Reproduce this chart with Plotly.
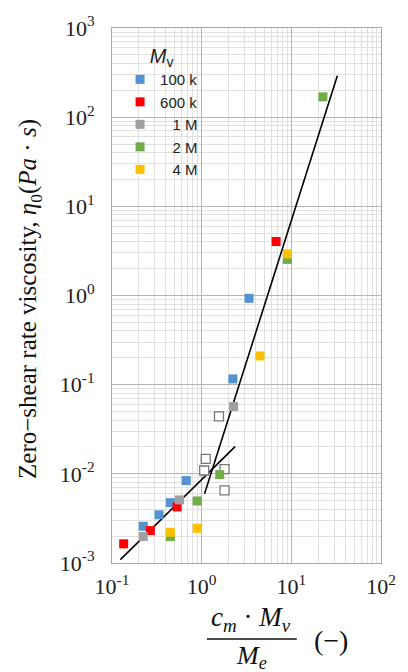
import plotly.graph_objects as go

# ---- data ----
x_100k = [0.223, 0.335, 0.447, 0.672, 2.23, 3.38]
y_100k = [0.00258, 0.00347, 0.00475, 0.0084, 0.116, 0.93]
x_600k = [0.135, 0.268, 0.532, 6.76]
y_600k = [0.00164, 0.00231, 0.00426, 4.03]
x_1M = [0.223, 0.565, 2.27]
y_1M = [0.00198, 0.0051, 0.0569]
x_1M_open = [1.067, 1.11, 1.80, 1.80, 1.56]
y_1M_open = [0.0109, 0.0147, 0.0113, 0.00652, 0.044]
x_2M = [0.447, 0.89, 1.59, 9.04, 22.5]
y_2M = [0.00198, 0.00496, 0.0098, 2.54, 169]
x_4M = [0.447, 0.89, 4.47, 9.04]
y_4M = [0.00221, 0.00245, 0.21, 2.93]

fit_low_x = [0.124, 2.36]
fit_low_y = [0.00109, 0.0202]
fit_high_x = [1.077, 32.6]
fit_high_y = [0.00597, 292]

x_tickvals = [0.1, 1, 10, 100]
x_ticktext = ["10<sup>-1</sup>", "10<sup>0</sup>", "10<sup>1</sup>", "10<sup>2</sup>"]
y_tickvals = [0.001, 0.01, 0.1, 1, 10, 100, 1000]
y_ticktext = ["10<sup>-3</sup>", "10<sup>-2</sup>", "10<sup>-1</sup>", "10<sup>0</sup>",
              "10<sup>1</sup>", "10<sup>2</sup>", "10<sup>3</sup>"]

series = [
    ("100 k", x_100k, y_100k, "#5592D2"),
    ("600 k", x_600k, y_600k, "#FF0000"),
    ("   1 M", x_1M, y_1M, "#A0A0A0"),
    ("   2 M", x_2M, y_2M, "#70AD47"),
    ("   4 M", x_4M, y_4M, "#FFC000"),
]

fig = go.Figure()

fig.add_trace(go.Scatter(x=fit_low_x, y=fit_low_y, mode="lines",
                         line=dict(color="black", width=1.6), showlegend=False))
fig.add_trace(go.Scatter(x=fit_high_x, y=fit_high_y, mode="lines",
                         line=dict(color="black", width=1.6), showlegend=False))

fig.add_trace(go.Scatter(x=x_1M_open, y=y_1M_open, mode="markers",
                         marker=dict(symbol="square", size=9, color="white",
                                     line=dict(color="#777777", width=1.3)),
                         showlegend=False))

for name, xs, ys, col in series:
    fig.add_trace(go.Scatter(x=xs, y=ys, mode="markers", name=name,
                             marker=dict(symbol="square", size=9, color=col,
                                         line=dict(width=0))))

grid_major = "#B5B5B5"
grid_minor = "#E0E0E0"
tick_font = dict(family="Liberation Serif, DejaVu Serif", size=22, color="#222")
serif = "Liberation Serif, DejaVu Serif"

fig.update_xaxes(type="log", range=[-1, 2], tickvals=x_tickvals, ticktext=x_ticktext,
                 showgrid=True, gridcolor=grid_major, gridwidth=1,
                 minor=dict(showgrid=True, gridcolor=grid_minor, dtick="D1", ticks=""),
                 showline=True, linecolor="#A6A6A6", mirror=True, zeroline=False,
                 tickfont=tick_font, ticks="", ticklen=0, ticklabelstandoff=4)
fig.update_yaxes(type="log", range=[-3, 3], tickvals=y_tickvals, ticktext=y_ticktext,
                 showgrid=True, gridcolor=grid_major, gridwidth=1,
                 minor=dict(showgrid=True, gridcolor=grid_minor, dtick="D1", ticks=""),
                 showline=True, linecolor="#A6A6A6", mirror=True, zeroline=False,
                 tickfont=tick_font, ticks="", ticklen=0, ticklabelstandoff=12)

fig.update_layout(
    width=408, height=672,
    margin=dict(l=112, r=18, t=21, b=109),
    plot_bgcolor="white", paper_bgcolor="white",
    legend=dict(x=0.03, y=0.983, xanchor="left", yanchor="top",
                bgcolor="rgba(0,0,0,0)",
                font=dict(family="Liberation Sans, Arial", size=15, color="#222"),
                title=dict(text="<i>M</i><sub>v</sub>", side="top center",
                           font=dict(family="Liberation Sans, Arial", size=20, color="#222")),
                itemwidth=30, tracegroupgap=0),
)

# y-axis title
fig.add_annotation(xref="paper", yref="paper", x=-0.306, y=0.493, xanchor="center", yanchor="middle",
                   textangle=-90, showarrow=False,
                   text="Zero−shear rate viscosity, <i>η</i><sub>0</sub>(<i>Pa</i> · <i>s</i>)",
                   font=dict(family=serif, size=25, color="#111"))

# x-axis title as a fraction
fig.add_annotation(xref="paper", yref="paper", x=0.518, y=-0.105, xanchor="center", yanchor="middle",
                   text="<i>c</i><sub><i>m</i></sub> · <i>M</i><sub><i>v</i></sub>", showarrow=False,
                   font=dict(family=serif, size=27, color="#111"))
fig.add_shape(type="line", xref="paper", yref="paper", x0=0.353, x1=0.687, y0=-0.142, y1=-0.142,
              line=dict(color="#111", width=1.5))
fig.add_annotation(xref="paper", yref="paper", x=0.518, y=-0.175, xanchor="center", yanchor="middle",
                   text="<i>M</i><sub><i>e</i></sub>", showarrow=False,
                   font=dict(family=serif, size=26, color="#111"))
fig.add_annotation(xref="paper", yref="paper", x=0.815, y=-0.145, xanchor="center", yanchor="middle",
                   text="(−)", showarrow=False,
                   font=dict(family=serif, size=28, color="#111"))

fig.write_html("out.html", config={"displayModeBar": False},
               post_script="document.body.style.margin='0px';document.body.style.overflow='hidden';")
